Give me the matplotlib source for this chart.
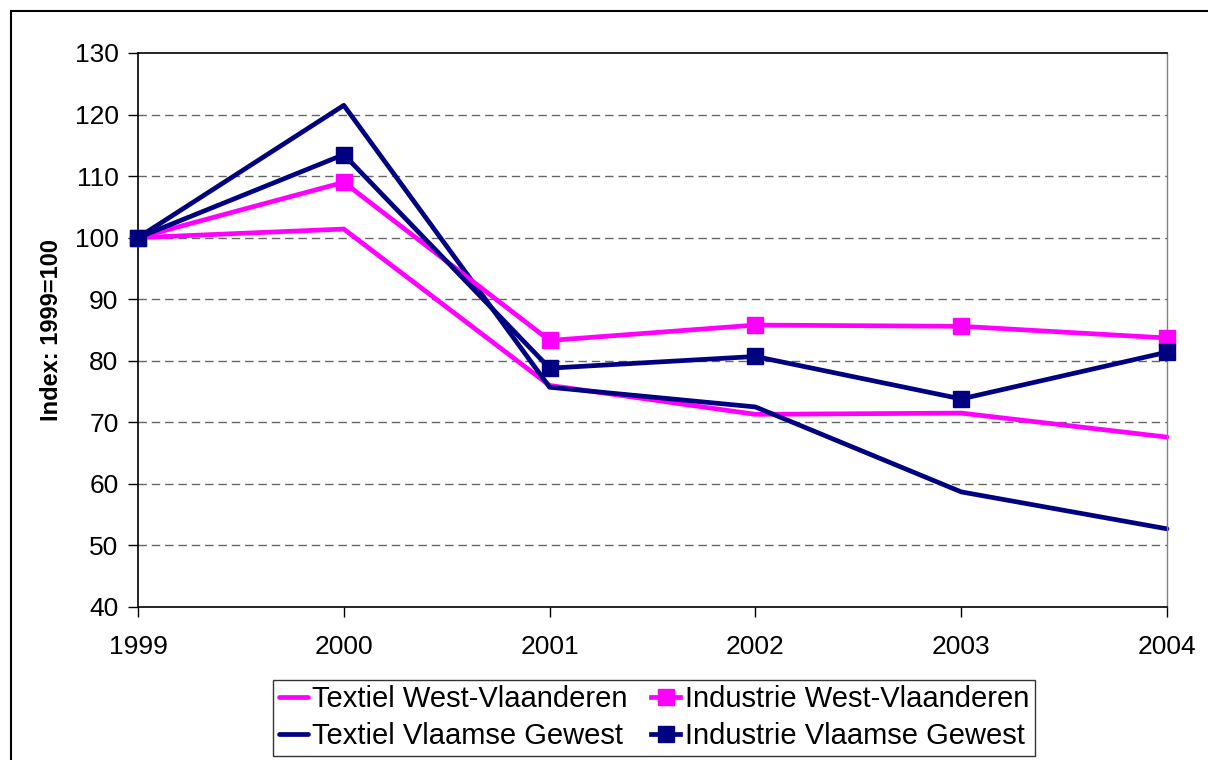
import matplotlib.pyplot as plt
from matplotlib.patches import Rectangle

plt.rcParams['font.family'] = ['Liberation Sans', 'DejaVu Sans']

# Index values (1999=100)
years = [1999, 2000, 2001, 2002, 2003, 2004]
textiel_wvl = [100, 101.4, 76.0, 71.3, 71.5, 67.6]
industrie_wvl = [100, 109.0, 83.3, 85.8, 85.6, 83.7]
textiel_vg = [100, 121.5, 75.7, 72.5, 58.7, 52.7]
industrie_vg = [100, 113.5, 78.8, 80.7, 73.8, 81.4]

magenta = '#FF00FF'
navy = '#000080'

fig = plt.figure(figsize=(12.08, 7.6), dpi=100)
ax = fig.add_axes([138/1208, 1-607/760, (1167-138)/1208, (607-53)/760])

h1, = ax.plot(years, textiel_wvl, color=magenta, lw=3.4, solid_capstyle='round',
              label='Textiel West-Vlaanderen', clip_on=False)
h3, = ax.plot(years, textiel_vg, color=navy, lw=3.4, solid_capstyle='round',
              label='Textiel Vlaamse Gewest', clip_on=False)
h2, = ax.plot(years, industrie_wvl, color=magenta, lw=3.4, marker='s', ms=11.5,
              label='Industrie West-Vlaanderen', clip_on=False, zorder=3)
h4, = ax.plot(years, industrie_vg, color=navy, lw=3.4, marker='s', ms=11.5,
              label='Industrie Vlaamse Gewest', clip_on=False, zorder=3)

ax.set_xlim(1999, 2004)
ax.set_ylim(40, 130)
ax.set_xticks(years)
ax.set_yticks(range(40, 131, 10))
ax.tick_params(labelsize=19, length=7, width=1, direction='out')
ax.tick_params(axis='x', pad=13)
ax.tick_params(axis='y', pad=7)

for y in range(50, 121, 10):
    ax.axhline(y, color='#666666', lw=1, ls=(0, (6, 3.6)), zorder=0)

for s in ['left', 'bottom', 'top']:
    ax.spines[s].set_color('black')
    ax.spines[s].set_linewidth(1.2)
ax.spines['right'].set_color('#808080')
ax.spines['right'].set_linewidth(1)

ax.set_ylabel('Index: 1999=100', fontsize=17, fontweight='bold', labelpad=8)

leg = fig.legend([h1, h3, h2, h4],
                 [h.get_label() for h in [h1, h3, h2, h4]],
                 ncol=2, loc='lower left', bbox_to_anchor=(273/1208, 1-756/760),
                 fontsize=21, frameon=True, fancybox=False, handlelength=1.0,
                 handletextpad=0.15, columnspacing=0.8, borderpad=0.2,
                 labelspacing=0.3, borderaxespad=0)
leg.get_frame().set_edgecolor('black')
leg.get_frame().set_linewidth(1)

fig.patches.append(Rectangle((11/1208, -0.05), 1.2, (760-11)/760 + 0.05,
                             transform=fig.transFigure, fill=False,
                             edgecolor='black', lw=1.5))

fig.savefig('out.png', dpi=100)
